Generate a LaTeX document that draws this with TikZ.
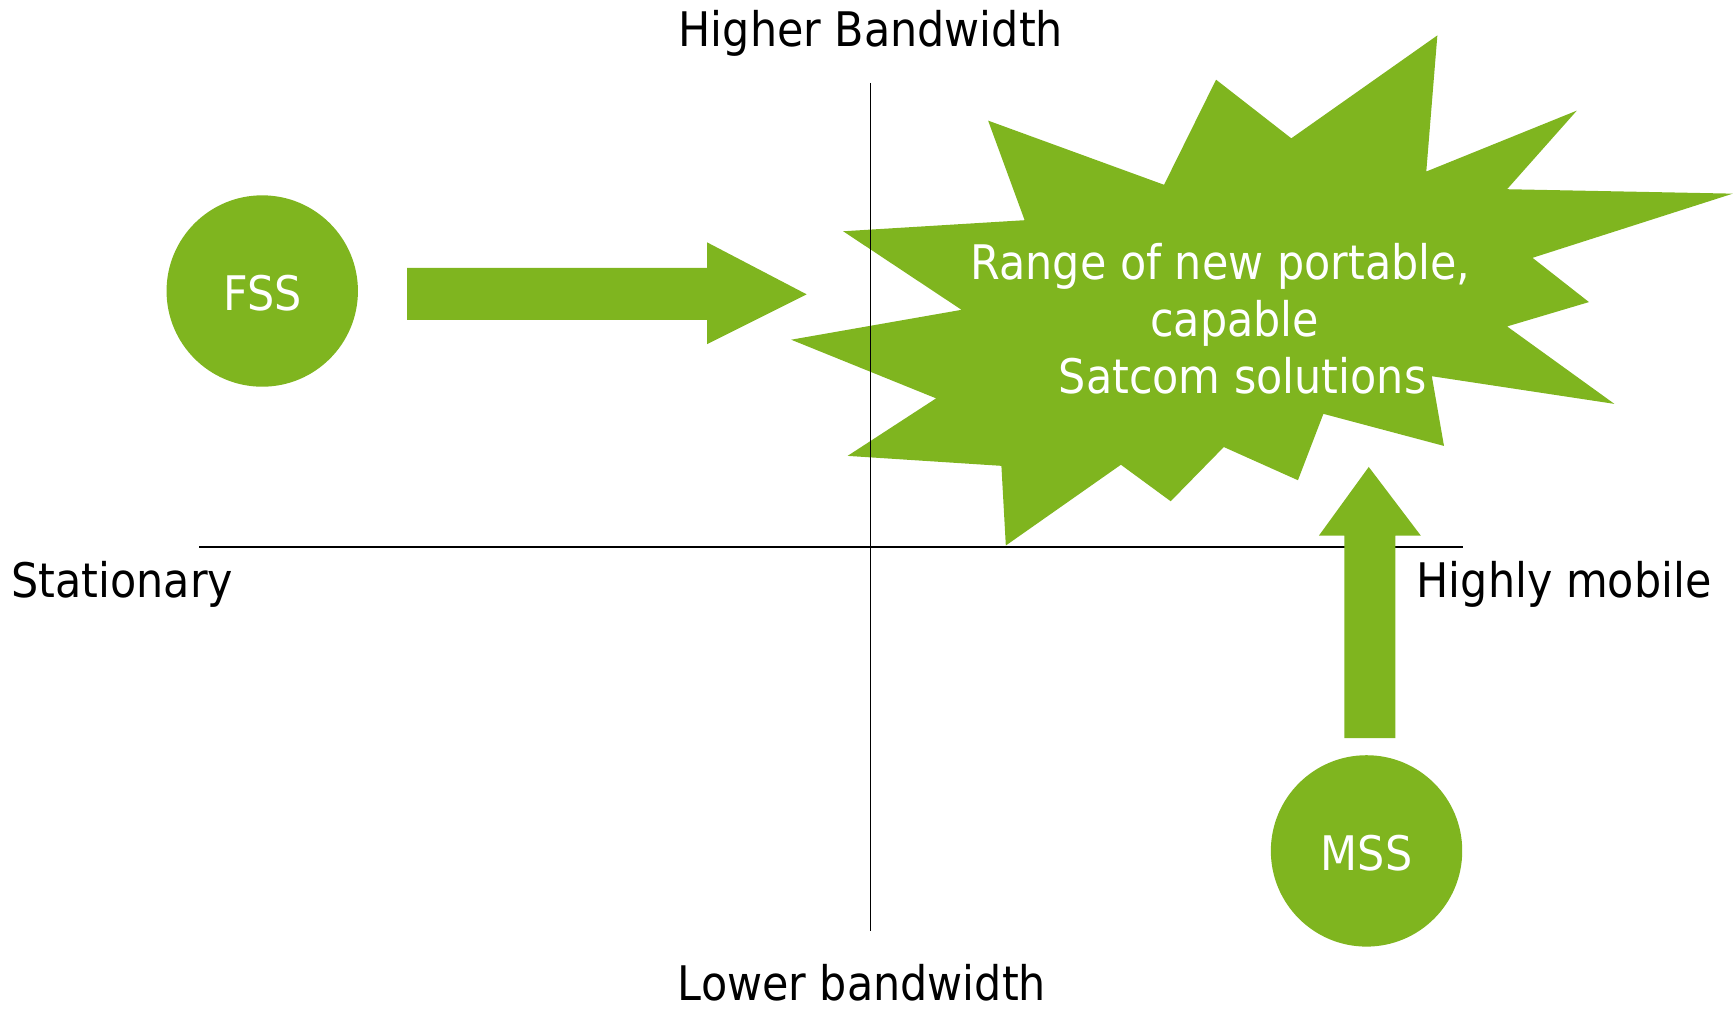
\documentclass[tikz,border=0pt]{standalone}
\usepackage{fontspec}
\setmainfont{DejaVu Sans}[FakeStretch=0.90]
\definecolor{burstgreen}{HTML}{7FB51F}
\begin{document}
\begin{tikzpicture}[x=0.02cm,y=-0.02cm,
  lbl/.style={font=\fontsize{24.5}{29.2}\selectfont, inner sep=0pt},
  wlbl/.style={lbl, text=white},
  blob/.style={circle, fill=burstgreen, minimum size=3.46cm, inner sep=0pt},
  fatarrow/.style={fill=burstgreen},
  axisv/.style={line width=0.6pt},
  axish/.style={line width=1.1pt}]
\useasboundingbox (0,0) rectangle (1568,913);
% horizontal axis
\coordinate (hl) at (180,494);
\coordinate (hr) at (1322,494);
\draw[axish] (hl) -- (hr);
% starburst
\fill[burstgreen] (893,109) -- (1052,167) -- (1099,72) -- (1167,125) -- (1299,32)
  -- (1289,155) -- (1425,100) -- (1362,171) -- (1566,175) -- (1385,233)
  -- (1436,273) -- (1362,295) -- (1459,365) -- (1294,340) -- (1305,403)
  -- (1196,374) -- (1173,434) -- (1106,404) -- (1058,453) -- (1013,420)
  -- (909,493) -- (905,421) -- (766,412) -- (846,360) -- (715,307)
  -- (869,280) -- (762,209) -- (926,199) -- cycle;
\node[wlbl, align=center] (burst) at (1103,288)
  {Range of new portable,\\\hspace*{14.7pt}capable\\\hspace*{22.7pt}Satcom solutions};
% vertical axis
\coordinate (vt) at (787,75);
\coordinate (vb) at (787,841);
\draw[axisv] (vt) -- (vb);
% circles
\node[blob] (fss) at (237,263) {};
\node[wlbl, anchor=base] (fsst) at (237,281) {FSS};
\node[blob] (mss) at (1235,769) {};
\node[wlbl, anchor=base] (msst) at (1235,787) {MSS};
% arrows
\fill[fatarrow] (368,242) -- (639,242) -- (639,219) -- (729,266) -- (639,311)
  -- (639,289) -- (368,289) -- cycle;
\fill[fatarrow] (1215,667) -- (1215,484) -- (1192,484) -- (1237,422) -- (1284,484)
  -- (1261,484) -- (1261,667) -- cycle;
% labels
\node[lbl, anchor=base] (hb) at (787,42) {Higher Bandwidth};
\node[lbl, anchor=base] (lb) at (779,904) {Lower bandwidth};
\node[lbl, anchor=base west] (st) at (10,540) {Stationary};
\node[lbl, anchor=base west] (hm) at (1280,540) {Highly mobile};
\end{tikzpicture}
\end{document}
